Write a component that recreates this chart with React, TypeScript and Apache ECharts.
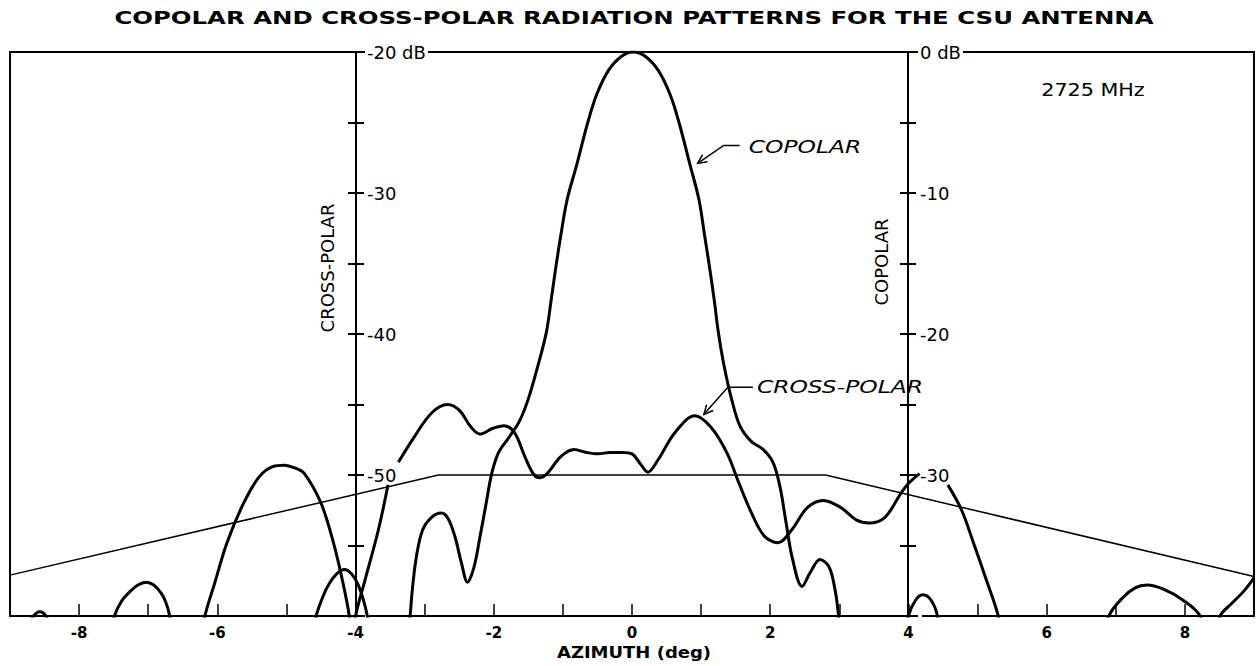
import React, { useEffect, useRef } from 'react';
import * as echarts from 'echarts';

// ---------- text ----------
const TITLE = 'COPOLAR AND CROSS-POLAR RADIATION PATTERNS FOR THE CSU ANTENNA';
const X_NAME = 'AZIMUTH (deg)';
const FREQ_LABEL = '2725 MHz';
const CROSS_NAME = 'CROSS-POLAR';
const CO_NAME = 'COPOLAR';

// ---------- scales ----------
const X_MIN = -9;
const X_MAX = 9;
const CROSS_MIN = -60;
const CROSS_MAX = -20;
const CO_MIN = -40;
const CO_MAX = 0;

// ---------- data (azimuth deg, dB) ; '-' = break in the trace ----------
const copolar: (number | string)[][] = [
  [-8.78, -41], [-8.66, -40.0], [-8.57, -39.7], [-8.48, -40.0], [-8.40, -41],
  [-8.2, '-'],
  [-7.55, -41.5], [-7.49, -40], [-7.38, -38.9], [-7.27, -38.3], [-7.15, -37.8], [-7.03, -37.6],
  [-6.92, -37.8], [-6.81, -38.4], [-6.74, -39.1], [-6.69, -40], [-6.65, -41.5],
  [-5.5, '-'],
  [-4.62, -41.5], [-4.57, -40], [-4.47, -38.6], [-4.38, -37.7], [-4.27, -37.0], [-4.16, -36.7],
  [-4.06, -37.0], [-3.97, -37.7], [-3.89, -38.8], [-3.83, -40], [-3.79, -41.5],
  [-3.5, '-'],
  [-3.24, -41.5], [-3.21, -40], [-3.18, -38.2], [-3.12, -35.8], [-3.03, -33.9], [-2.9, -33.0],
  [-2.76, -32.7], [-2.66, -33.1], [-2.56, -34.4], [-2.47, -36.2], [-2.38, -37.6], [-2.29, -36.6],
  [-2.2, -34.4], [-2.11, -32.0], [-2.03, -29.9], [-1.93, -28.4], [-1.79, -27.4], [-1.63, -26.2],
  [-1.5, -24.6], [-1.37, -22.4], [-1.24, -19.9], [-1.17, -17.6], [-1.1, -15.2], [-1.03, -13.0],
  [-0.94, -10.5], [-0.8, -8.0], [-0.64, -5.0], [-0.51, -3.0], [-0.34, -1.3], [-0.15, -0.3],
  [0.02, 0], [0.19, -0.3], [0.38, -1.3], [0.55, -3.0], [0.68, -5.0], [0.84, -8.0], [0.97, -10.5],
  [1.05, -13.0], [1.12, -15.2], [1.19, -17.6], [1.25, -19.9], [1.33, -22.2], [1.44, -24.6],
  [1.56, -26.5], [1.72, -27.6], [1.9, -28.2], [2.04, -29.1], [2.14, -30.8], [2.23, -33.4],
  [2.32, -35.9], [2.46, -37.9], [2.58, -36.9], [2.72, -36.0], [2.85, -36.5], [2.94, -38.2],
  [2.99, -40], [3.02, -41.5],
  [3.5, '-'],
  [3.97, -41.5], [4.0, -40], [4.1, -38.9], [4.21, -38.5], [4.33, -38.9], [4.42, -40], [4.45, -41.5],
  [5.5, '-'],
  [6.86, -41.5], [6.9, -40], [7.1, -38.7], [7.28, -38.0], [7.45, -37.8], [7.69, -38.1],
  [7.98, -38.9], [8.22, -40], [8.27, -41.5],
  [8.4, '-'],
  [8.47, -41.5], [8.51, -40], [8.68, -39.1], [8.86, -38.2], [9.0, -37.3],
];

const crossPolar: (number | string)[][] = [
  [-6.22, -61.5], [-6.18, -60], [-6.04, -57.7], [-5.86, -54.8], [-5.62, -52.0], [-5.39, -50.1],
  [-5.2, -49.4], [-5.03, -49.3], [-4.88, -49.5], [-4.74, -49.9], [-4.5, -52.0], [-4.32, -54.8],
  [-4.18, -57.7], [-4.09, -60], [-4.06, -61.5],
  [-4.045, '-'],
  [-4.03, -61.5], [-4.0, -60], [-3.86, -57.4], [-3.67, -53.9], [-3.53, -50.7],
  [-3.46, '-'],
  [-3.38, -49.1], [-3.15, -47.3], [-2.9, -45.6], [-2.67, -45.0], [-2.5, -45.4], [-2.33, -46.6],
  [-2.2, -47.1], [-2.02, -46.7], [-1.85, -46.5], [-1.7, -47.0], [-1.55, -48.7], [-1.43, -49.9],
  [-1.34, -50.2], [-1.23, -49.9], [-1.03, -48.7], [-0.84, -48.2], [-0.66, -48.4], [-0.49, -48.5],
  [-0.32, -48.4], [-0.14, -48.4], [0.0, -48.5], [0.12, -49.2], [0.23, -49.8], [0.38, -48.9],
  [0.62, -47.0], [0.91, -45.8], [1.14, -46.6], [1.37, -48.4], [1.55, -50.6], [1.73, -52.7],
  [1.91, -54.3], [2.11, -54.8], [2.31, -53.9], [2.54, -52.3], [2.77, -51.8], [3.02, -52.3],
  [3.25, -53.2], [3.43, -53.4], [3.66, -53.0], [3.89, -51.3], [4.0, -50.6], [4.16, -49.9],
  [4.36, '-'],
  [4.57, -50.7], [4.77, -52.5], [4.94, -54.8], [5.11, -57.2], [5.3, -60], [5.34, -61.5],
];

// copolar-scale limit line
const envelope: number[][] = [
  [-9, -37.1], [-2.8, -30], [2.8, -30], [9, -37.2],
];

// annotation arrow tips (data coordinates)
const coArrowTip = [0.95, -7.9]; // copolar scale
const crossArrowTip = [1.04, -45.7]; // cross-polar scale

const FONT = 'DejaVu Sans';

function crossFmt(v: number) {
  if (v === CROSS_MAX) return '-20 dB';
  if (v % 10 === 0 && v > CROSS_MIN) return String(v);
  return '';
}
function coFmt(v: number) {
  if (v === CO_MAX) return '0 dB';
  if (v % 10 === 0 && v > CO_MIN) return String(v);
  return '';
}

export default function App() {
  const ref = useRef<HTMLDivElement>(null);
  useEffect(() => {
    if (!ref.current) return;
    const chart = echarts.init(ref.current, undefined, { renderer: 'svg' });
    const axisLine = { show: true, onZero: false, lineStyle: { color: '#000', width: 2 } };
    const hiddenLine = { show: false, onZero: false };
    const yLabel = {
      color: '#000', fontFamily: FONT, fontSize: 18, backgroundColor: '#fff', padding: [1, 2],
    };
    const option: any = {
      animation: false,
      backgroundColor: '#fff',
      grid: {
        left: 10, top: 52, width: 1246, height: 564, show: true,
        borderColor: '#000', borderWidth: 2, backgroundColor: 'transparent',
      },
      xAxis: {
        type: 'value', min: X_MIN, max: X_MAX, interval: 1,
        axisLine,
        axisTick: { inside: true, length: 12, lineStyle: { color: '#000', width: 1.5 } },
        axisLabel: {
          margin: 9, color: '#000', fontFamily: FONT, fontWeight: 'bold', fontSize: 15,
          formatter: (v: number) => (Math.abs(v % 2) < 1e-9 && Math.abs(v) < 9 ? String(v) : ''),
        },
        splitLine: { show: false },
      },
      yAxis: [
        {
          type: 'value', min: CROSS_MIN, max: CROSS_MAX, interval: 5, position: 'left', offset: -346,
          axisLine,
          axisTick: { show: true, inside: false, length: 8, lineStyle: { color: '#000', width: 2 } },
          axisLabel: { ...yLabel, inside: true, margin: 9, formatter: crossFmt },
          splitLine: { show: false },
        },
        {
          type: 'value', min: CROSS_MIN, max: CROSS_MAX, interval: 5, position: 'left', offset: -346,
          axisLine: hiddenLine,
          axisTick: { show: true, inside: true, length: 8, lineStyle: { color: '#000', width: 2 } },
          axisLabel: { show: false },
          splitLine: { show: false },
        },
        {
          type: 'value', min: CO_MIN, max: CO_MAX, interval: 5, position: 'right', offset: -346,
          axisLine,
          axisTick: { show: true, inside: false, length: 8, lineStyle: { color: '#000', width: 2 } },
          axisLabel: { ...yLabel, inside: false, margin: 10, formatter: coFmt },
          splitLine: { show: false },
        },
        {
          type: 'value', min: CO_MIN, max: CO_MAX, interval: 5, position: 'right', offset: -346,
          axisLine: hiddenLine,
          axisTick: { show: true, inside: true, length: 8, lineStyle: { color: '#000', width: 2 } },
          axisLabel: { show: false },
          splitLine: { show: false },
        },
      ],
      series: [
        {
          type: 'line', name: 'Cross-polar', xAxisIndex: 0, yAxisIndex: 0, data: crossPolar,
          smooth: 0.35, showSymbol: false, symbol: 'none', connectNulls: false, clip: true,
          lineStyle: { color: '#000', width: 3 }, z: 3,
        },
        {
          type: 'line', name: 'Copolar', xAxisIndex: 0, yAxisIndex: 2, data: copolar,
          smooth: 0.35, showSymbol: false, symbol: 'none', connectNulls: false, clip: true,
          lineStyle: { color: '#000', width: 3 }, z: 3,
        },
        {
          type: 'line', name: 'Limit', xAxisIndex: 0, yAxisIndex: 2, data: envelope,
          smooth: false, showSymbol: false, symbol: 'none', clip: true,
          lineStyle: { color: '#000', width: 1.5 }, z: 2,
        },
      ],
    };
    chart.setOption(option);

    const co = chart.convertToPixel({ xAxisIndex: 0, yAxisIndex: 2 }, coArrowTip) as number[];
    const cr = chart.convertToPixel({ xAxisIndex: 0, yAxisIndex: 0 }, crossArrowTip) as number[];

    const arrow = (tip: number[], dx: number, dy: number, run: number) => {
      const ang = Math.atan2(dy, dx);
      const L = 10;
      const a1 = [tip[0] + L * Math.cos(ang + 0.45), tip[1] + L * Math.sin(ang + 0.45)];
      const a2 = [tip[0] + L * Math.cos(ang - 0.45), tip[1] + L * Math.sin(ang - 0.45)];
      return [
        {
          type: 'polyline', z: 10,
          shape: { points: [tip, [tip[0] + dx, tip[1] + dy], [tip[0] + dx + run, tip[1] + dy]] },
          style: { stroke: '#000', lineWidth: 1.5, fill: 'none' },
        },
        {
          type: 'polyline', z: 10,
          shape: { points: [a1, tip, a2] },
          style: { stroke: '#000', lineWidth: 1.5, fill: 'none' },
        },
      ];
    };

    const txt = (text: string, x: number, y: number, font: string, extra: any = {}, align = 'center') => ({
      type: 'text', x, y, z: 10, ...extra,
      style: {
        text, font, fill: '#000',
        align, verticalAlign: 'middle', textAlign: align, textVerticalAlign: 'middle',
      },
    });

    chart.setOption({
      graphic: [
        txt(TITLE, 634, 18, `bold 18px "${FONT}"`, { scaleX: 1.355 }),
        txt(FREQ_LABEL, 1093, 90, `18px "${FONT}"`, { scaleX: 1.15 }),
        txt(CROSS_NAME, 327, 268, `18px "${FONT}"`, { rotation: Math.PI / 2 }),
        txt(CO_NAME, 881, 262, `18px "${FONT}"`, { rotation: Math.PI / 2 }),
        txt(X_NAME, 634, 653, `bold 15px "${FONT}"`, { scaleX: 1.2 }),
        ...arrow(co, 26, -18, 16),
        txt(CO_NAME, co[0] + 51, co[1] - 16, `italic 18px "${FONT}"`, { scaleX: 1.3 }, 'left'),
        ...arrow(cr, 24, -27, 25),
        txt(CROSS_NAME, cr[0] + 53, cr[1] - 27, `italic 18px "${FONT}"`, { scaleX: 1.3 }, 'left'),
      ],
    });

    return () => chart.dispose();
  }, []);
  return (
    <div
      ref={ref}
      style={{ position: 'fixed', left: 0, top: 0, width: 1257, height: 666, background: '#fff' }}
    />
  );
}
